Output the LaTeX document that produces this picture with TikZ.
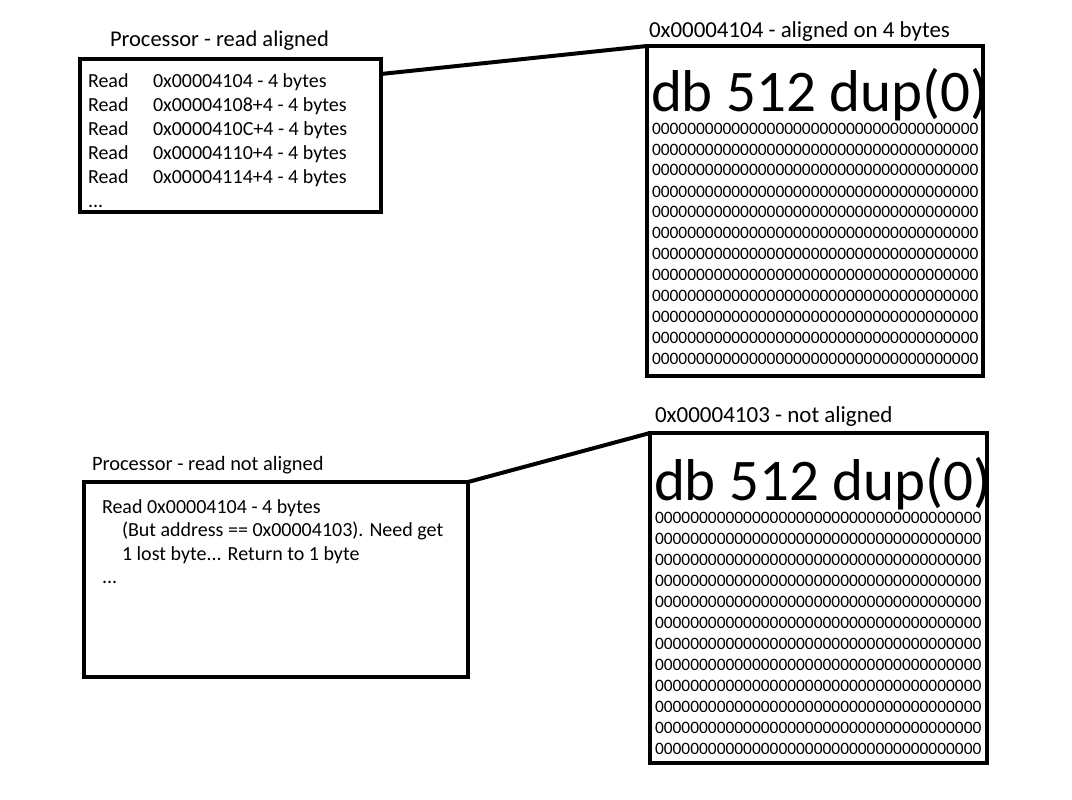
\documentclass[tikz,border=0pt]{standalone}
\usepackage{fontspec}
\setmainfont{Carlito}
\usetikzlibrary{positioning}

\newcommand{\zerorow}{0000000000000000000000000000000000000}
\newcommand{\readcol}{\makebox[65pt][l]{Read}}

\begin{document}
\begin{tikzpicture}[x=1pt,y=-1pt,
	box/.style={draw, line width=4pt, inner sep=0pt, outer sep=0pt, anchor=north west},
	link/.style={line width=4pt},
	boxtitle/.style={anchor=base west, inner sep=0pt, outer sep=0pt},
	boxtext/.style={anchor=base west, inner sep=0pt, outer sep=0pt, align=flush left, text width=#1, font=\fontsize{20}{24}\selectfont},
	dbtext/.style={anchor=base west, inner sep=0pt, outer sep=0pt, font=\fontsize{59}{70}\selectfont},
	zerorows/.style={anchor=base west, inner sep=0pt, outer sep=0pt, align=flush left, text width=330pt, font=\fontsize{17.4}{21}\selectfont}]

	\useasboundingbox (0,0) rectangle (1072,800);

	% Aligned read
	\node[boxtitle, font=\fontsize{22.5}{27}\selectfont] (titleA) at (110,47) {Processor - read aligned};
	\node[box, minimum width=301pt, minimum height=153pt] (procA) at (80,59) {};
	\node[boxtext=290pt] (readA) at (88,88) {\readcol 0x00004104 - 4 bytes\\
		\readcol 0x00004108+4 - 4 bytes\\
		\readcol 0x0000410C+4 - 4 bytes\\
		\readcol 0x00004110+4 - 4 bytes\\
		\readcol 0x00004114+4 - 4 bytes\\
		...};

	% Memory, aligned
	\node[box, minimum width=336pt, minimum height=330pt] (memA) at (647,46) {};
	\node[boxtitle, font=\fontsize{22.9}{27}\selectfont] (addrA) at (649,38) {0x00004104 - aligned on 4 bytes};
	\node[dbtext] (dbA) at (651,112) {db 512 dup(0)};
	\node[zerorows] (zerosA) at (652,134) {\zerorow\\ \zerorow\\ \zerorow\\ \zerorow\\ \zerorow\\ \zerorow\\
		\zerorow\\ \zerorow\\ \zerorow\\ \zerorow\\ \zerorow\\ \zerorow};

	\draw[link] ([yshift=-15pt]procA.north east) -- (memA.north west);

	% Not aligned read
	\node[boxtitle, font=\fontsize{20.4}{24}\selectfont] (titleB) at (92,470) {Processor - read not aligned};
	\node[box, minimum width=384pt, minimum height=195pt] (procB) at (84,482) {};
	\node[boxtext=360pt, font=\fontsize{20}{23.5}\selectfont] (readB) at (102,513) {Read 0x00004104 - 4 bytes\\
		\hspace*{20pt}(But address == 0x00004103). Need get\\
		\hspace*{20pt}1 lost byte... Return to 1 byte\\
		...};

	% Memory, not aligned
	\node[box, minimum width=337pt, minimum height=330pt] (memB) at (650,433) {};
	\node[boxtitle, font=\fontsize{23}{27}\selectfont] (addrB) at (655,422) {0x00004103 - not aligned};
	\node[dbtext] (dbB) at (654,500) {db 512 dup(0)};
	\node[zerorows] (zerosB) at (655,523) {\zerorow\\ \zerorow\\ \zerorow\\ \zerorow\\ \zerorow\\ \zerorow\\
		\zerorow\\ \zerorow\\ \zerorow\\ \zerorow\\ \zerorow\\ \zerorow};

	\draw[link] (procB.north east) -- (memB.north west);

\end{tikzpicture}
\end{document}
